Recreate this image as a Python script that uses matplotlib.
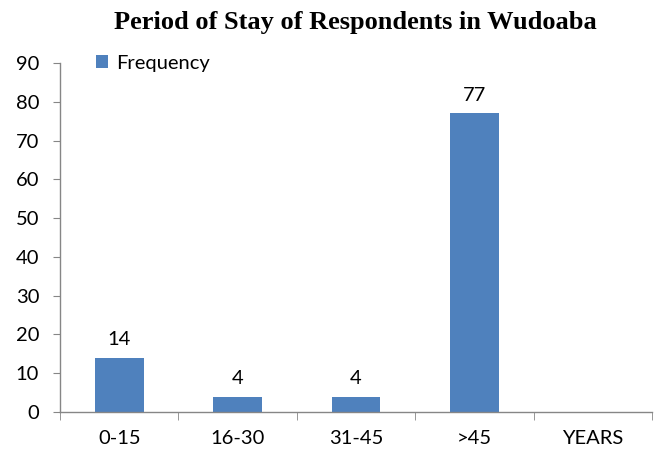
import numpy as np
import matplotlib
matplotlib.use("Agg")
import matplotlib.pyplot as plt

# data
categories = ["0-15", "16-30", "31-45", ">45", "YEARS"]
frequency = [14, 4, 4, 77, 0]   # no bar drawn for YEARS
y_ticks = [0, 10, 20, 30, 40, 50, 60, 70, 80, 90]

bar_color = "#4F81BD"
axis_color = "#868686"

plt.rcParams['font.family'] = ['Lato', 'DejaVu Sans']

fig = plt.figure(figsize=(6.56, 4.5), dpi=100)
ax = fig.add_axes([0.0915, 0.0844, 0.9025, 0.7756])

x = np.arange(len(categories))
bars = ax.bar(x, frequency, width=0.41, color=bar_color, label="Frequency", zorder=2)

# value labels above bars (skip the empty category)
for xi, v in zip(x, frequency):
    if v > 0:
        ax.text(xi, v + 2.5, str(v), ha="center", va="bottom", fontsize=14.5, color="black")

ax.set_xlim(-0.5, len(categories) - 0.5)
ax.set_ylim(0, 90)
ax.set_yticks(y_ticks)
ax.set_yticklabels([str(t) for t in y_ticks], fontsize=14.5)

# category labels centred, tick marks on the boundaries
ax.set_xticks(x)
ax.set_xticklabels(categories, fontsize=14.5)
ax.tick_params(axis="x", which="major", length=0, pad=13)
ax.set_xticks(np.arange(-0.5, len(categories)), minor=True)
ax.tick_params(axis="x", which="minor", length=6, color=axis_color, direction="out")
ax.tick_params(axis="y", length=5, color=axis_color, direction="out", pad=10)

for side in ["top", "right"]:
    ax.spines[side].set_visible(False)
for side in ["left", "bottom"]:
    ax.spines[side].set_color(axis_color)
    ax.spines[side].set_linewidth(1.0)

leg = ax.legend(loc="upper left", bbox_to_anchor=(0.03, 1.075), frameon=False,
                fontsize=14.5, handlelength=0.6, handleheight=0.6, handletextpad=0.4)

fig.suptitle("Period of Stay of Respondents in Wudoaba", x=0.542, y=0.975,
             fontsize=19, fontweight="bold", family="Liberation Serif")

fig.savefig("out.png", dpi=100)
